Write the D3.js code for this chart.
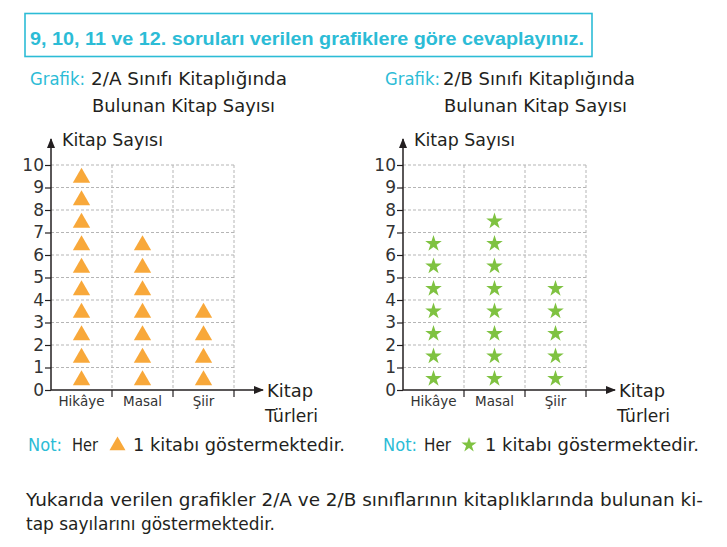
<!DOCTYPE html>
<html>
<head>
<meta charset="utf-8">
<script src="https://cdn.jsdelivr.net/npm/d3@7"></script>
<style>
  body { margin: 0; background: #fff; }
  text { font-family: "DejaVu Sans", sans-serif; }
</style>
</head>
<body>
<div id="canvas"></div>
<script>
"use strict"

// values
let categories = ["Hikâye", "Masal", "Şiir"];
let classA = [10, 7, 4];
let classB = [7, 8, 5];
let yTicks = [0, 1, 2, 3, 4, 5, 6, 7, 8, 9, 10];

let cyan = "#2cbcd6";
let ink = "#231f20";

let drawing = d3.select("#canvas")
    .append("svg")
    .attr("width", 727)
    .attr("height", 547);

// little helper: text stretched to the width it has in the picture
function label(parent, x, y, str, width, size, color) {
    let t = parent.append("text")
        .attr("x", x).attr("y", y)
        .attr("font-size", size)
        .attr("fill", color)
        .text(str);
    if (width) t.attr("textLength", width).attr("lengthAdjust", "spacingAndGlyphs");
    return t;
}

// arrow head used on both axes
drawing.append("defs").append("marker")
    .attr("id", "arrow")
    .attr("viewBox", "0 0 10 10")
    .attr("refX", 9).attr("refY", 5)
    .attr("markerWidth", 10).attr("markerHeight", 10)
    .attr("markerUnits", "userSpaceOnUse")
    .attr("orient", "auto")
    .append("path")
    .attr("d", "M0,1 L10,5 L0,9 Z")
    .attr("fill", ink);

// header box
drawing.append("rect")
    .attr("x", 25).attr("y", 13.5)
    .attr("width", 567).attr("height", 43)
    .attr("fill", "none")
    .attr("stroke", cyan)
    .attr("stroke-width", 1.6);

label(drawing, 30, 45, "9, 10, 11 ve 12. soruları verilen grafiklere göre cevaplayınız.", 554, 18, cyan)
    .style("font-family", "Liberation Sans, Arial, sans-serif")
    .attr("font-weight", "bold");

/* draws one pictograph; x0 is where the y axis sits */
function pictograph(x0, values, shape, color, symSize, letter, titleX, w) {
    let g = drawing.append("g");

    // title
    label(g, titleX, 85, "Grafik:", 55, 17.5, cyan);
    label(g, w.t1x, 85, letter + " Sınıfı Kitaplığında", w.t1, 17.5, ink);
    label(g, w.t2x, 112, "Bulunan Kitap Sayısı", w.t2, 17.5, ink);

    let x = d3.scaleBand().domain(categories).range([x0, x0 + 183]);
    let y = d3.scaleLinear().domain([0, 10]).range([390, 165]);

    // dashed grid
    g.append("g").selectAll("line")
        .data(yTicks.slice(1))
        .join("line")
        .attr("x1", x0).attr("x2", x.range()[1])
        .attr("y1", d => y(d)).attr("y2", d => y(d))
        .attr("stroke", "#b5b5b5").attr("stroke-dasharray", "3,2");

    let bounds = categories.map(c => x(c) + x.bandwidth());
    g.append("g").selectAll("line")
        .data(bounds)
        .join("line")
        .attr("x1", d => d).attr("x2", d => d)
        .attr("y1", y(10)).attr("y2", y(0))
        .attr("stroke", "#b5b5b5").attr("stroke-dasharray", "3,2");

    // small ticks under the x axis
    g.append("g").selectAll("line")
        .data(bounds)
        .join("line")
        .attr("x1", d => d).attr("x2", d => d)
        .attr("y1", y(0)).attr("y2", y(0) + 7)
        .attr("stroke", ink).attr("stroke-width", 1.2);

    // y axis
    let yAxis = g.append("g")
        .attr("transform", "translate(" + x0 + ",0)")
        .call(d3.axisLeft(y).tickValues(yTicks).tickSize(6).tickPadding(1));
    yAxis.select(".domain").remove();
    yAxis.selectAll("line").attr("stroke", ink).attr("stroke-width", 1.2);
    yAxis.selectAll("text")
        .attr("font-family", "Liberation Sans, Arial, sans-serif")
        .attr("font-size", 17).attr("fill", "#333");

    // category labels
    let xAxis = g.append("g")
        .attr("transform", "translate(0," + y(0) + ")")
        .call(d3.axisBottom(x).tickSize(0).tickPadding(6));
    xAxis.select(".domain").remove();
    xAxis.selectAll("text")
        .attr("font-family", "DejaVu Sans, sans-serif")
        .attr("font-size", 13.5).attr("fill", "#333");

    // axis lines with arrows
    g.append("line")
        .attr("x1", x0).attr("x2", x0)
        .attr("y1", y(0)).attr("y2", 139)
        .attr("stroke", ink).attr("stroke-width", 1.5)
        .attr("marker-end", "url(#arrow)");
    g.append("line")
        .attr("x1", x0).attr("x2", x0 + 212)
        .attr("y1", y(0)).attr("y2", y(0))
        .attr("stroke", ink).attr("stroke-width", 1.5)
        .attr("marker-end", "url(#arrow)");

    label(g, x0 + 11, 146, "Kitap Sayısı", 101, 17.5, ink);
    label(g, x0 + 216, 397, "Kitap", 46, 17.5, ink);
    label(g, x0 + 214, 422, "Türleri", 53, 17.5, ink);

    // one symbol per book
    let marks = [];
    categories.forEach((c, i) => {
        d3.range(values[i]).forEach(k => marks.push({ c: c, k: k }));
    });
    let lift = shape === d3.symbolTriangle ? 1.5 : 0;
    g.append("g").selectAll("path")
        .data(marks)
        .join("path")
        .attr("d", d3.symbol().type(shape).size(symSize))
        .attr("transform", d => "translate(" + (x(d.c) + x.bandwidth() / 2) + "," + (y(d.k + 0.5) + lift) + ")")
        .attr("fill", color);

    // note line
    label(g, titleX - 2, 451, "Not:", 34, 17.5, cyan);
    label(g, w.herx, 451, "Her", w.her, 17.5, ink);
    g.append("path")
        .attr("d", d3.symbol().type(shape).size(symSize * 0.85))
        .attr("transform", "translate(" + w.symx + "," + (445 + lift / 2) + ")")
        .attr("fill", color);
    label(g, w.notex, 451, "1 kitabı göstermektedir.", w.note, 17.5, ink);
}

pictograph(51, classA, d3.symbolTriangle, "#f8a83a", 130, "2/A", 30,
    { t1x: 91, t1: 196, t2x: 92, t2: 183, herx: 72, her: 26, symx: 117.5, notex: 133, note: 212 });
pictograph(403, classB, d3.symbolStar, "#7fc241", 85, "2/B", 385,
    { t1x: 443, t1: 192, t2x: 444, t2: 183, herx: 424, her: 27, symx: 469, notex: 485, note: 214 });

// closing paragraph
label(drawing, 26, 506, "Yukarıda verilen grafikler 2/A ve 2/B sınıflarının kitaplıklarında bulunan ki-", 677, 17.5, ink);
label(drawing, 26, 530, "tap sayılarını göstermektedir.", 249, 17.5, ink);
</script>
</body>
</html>
